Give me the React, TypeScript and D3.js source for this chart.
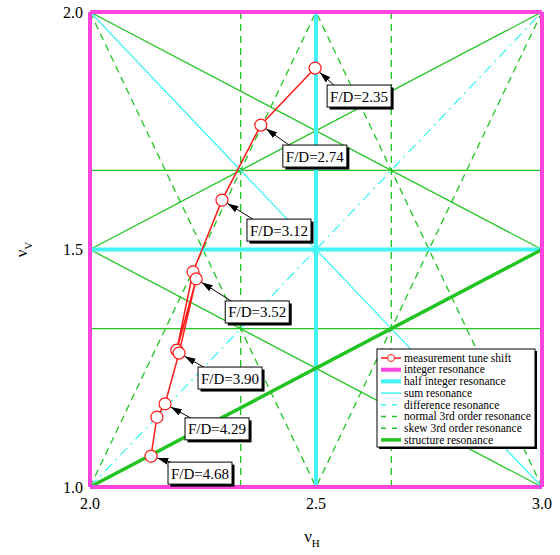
import * as d3 from 'd3'
import { useEffect, useRef } from 'react'

const W = 560
const H = 555
const margin = { top: 12, right: 18, bottom: 68, left: 90 }

// measured tunes along the F/D scan (νH, νV)
const tuneH = [2.498, 2.378, 2.292, 2.228, 2.192, 2.235, 2.197, 2.166, 2.148, 2.135]
const tuneV = [1.882, 1.762, 1.604, 1.453, 1.288, 1.438, 1.282, 1.175, 1.147, 1.065]
// F/D labels and which measured point each one points at
const fdLabels = ['F/D=2.35', 'F/D=2.74', 'F/D=3.12', 'F/D=3.52', 'F/D=3.90', 'F/D=4.29', 'F/D=4.68']
const fdIndex = [0, 1, 2, 5, 6, 7, 9]
// box offset from the point, px
const fdOffset = [[12, 17], [22, 20], [25, 19], [29, 22], [19, 14], [20, 14], [17, 6]]

const xTicks = [2.0, 2.5, 3.0]
const yTicks = [1.0, 1.5, 2.0]

// resonance lines a*νH + b*νV = n
const integerLines = [[1, 0, 2], [1, 0, 3], [0, 1, 1], [0, 1, 2]]
const halfIntegerLines = [[2, 0, 5], [0, 2, 3]]
const sumLines = [[1, 1, 4]]
const differenceLines = [[1, -1, 1]]
const normal3rdLines = [[3, 0, 7], [3, 0, 8], [2, -1, 3], [2, -1, 4], [2, 1, 6], [2, 1, 7]]
const skew3rdLines = [[0, 3, 4], [0, 3, 5], [1, 2, 5], [1, 2, 6], [-1, 2, 1]]
const structureLines = [[-1, 2, 0]]

const MAGENTA = '#ff44dd'
const CYAN = '#44f4f4'
const GREEN = '#22c422'
const RED = '#ff1a1a'
const FONT = '"Liberation Serif", "Times New Roman", serif'

const legendItems = [
  { label: 'measurement tune shift', color: RED, width: 1.5, dash: '', marker: true },
  { label: 'integer resonance', color: MAGENTA, width: 4, dash: '' },
  { label: 'half integer resonance', color: CYAN, width: 4, dash: '' },
  { label: 'sum resonance', color: CYAN, width: 1.5, dash: '' },
  { label: 'difference resonance', color: CYAN, width: 1.5, dash: '5,6' },
  { label: 'normal 3rd order resonance', color: GREEN, width: 1.5, dash: '5,6' },
  { label: 'skew 3rd order resonance', color: GREEN, width: 1.5, dash: '5,6' },
  { label: 'structure resonance', color: GREEN, width: 3.5, dash: '' },
]

// end points of a*x + b*y = n inside [2,3]x[1,2]
function clipLine(a: number, b: number, n: number) {
  const pts: number[][] = []
  const eps = 1e-9
  for (const x of [2, 3]) {
    if (b !== 0) {
      const y = (n - a * x) / b
      if (y >= 1 - eps && y <= 2 + eps) pts.push([x, y])
    }
  }
  for (const y of [1, 2]) {
    if (a !== 0) {
      const x = (n - b * y) / a
      if (x >= 2 - eps && x <= 3 + eps) pts.push([x, y])
    }
  }
  const out: number[][] = []
  pts.forEach(p => { if (!out.some(q => Math.abs(q[0] - p[0]) < 1e-6 && Math.abs(q[1] - p[1]) < 1e-6)) out.push(p) })
  return out.slice(0, 2)
}

export default function App() {
  const ref = useRef<SVGSVGElement>(null)
  useEffect(() => {
    const svg = d3.select(ref.current)
    svg.selectAll('*').remove()
    const x = d3.scaleLinear().domain([2, 3]).range([margin.left, W - margin.right])
    const y = d3.scaleLinear().domain([1, 2]).range([H - margin.bottom, margin.top])

    const defs = svg.append('defs')
    defs.append('marker').attr('id', 'arrow').attr('markerUnits', 'userSpaceOnUse')
      .attr('markerWidth', 12).attr('markerHeight', 8).attr('refX', 11).attr('refY', 3.5)
      .attr('orient', 'auto')
      .append('path').attr('d', 'M0,0 L11,3.5 L0,7 Z').attr('fill', '#000')

    const drawLines = (lines: number[][], color: string, width: number, dash: string) => {
      lines.forEach(([a, b, n]) => {
        const p = clipLine(a, b, n)
        if (p.length < 2) return
        svg.append('line')
          .attr('x1', x(p[0][0])).attr('y1', y(p[0][1]))
          .attr('x2', x(p[1][0])).attr('y2', y(p[1][1]))
          .attr('stroke', color).attr('stroke-width', width)
          .attr('stroke-dasharray', dash || null)
      })
    }
    drawLines(skew3rdLines, GREEN, 1.3, '')
    drawLines(normal3rdLines, GREEN, 1.3, '7,5')
    drawLines(sumLines, CYAN, 1.3, '')
    drawLines(differenceLines, CYAN, 1.3, '10,5,2,5')
    drawLines(halfIntegerLines, CYAN, 4, '')
    drawLines(structureLines, GREEN, 3.5, '')
    drawLines(integerLines, MAGENTA, 4, '')

    // tick labels
    svg.append('g').selectAll('text').data(xTicks).enter().append('text')
      .attr('x', d => x(d)).attr('y', H - margin.bottom + 22)
      .attr('text-anchor', 'middle').attr('font-family', FONT).attr('font-size', 16)
      .text(d => d.toFixed(1))
    svg.append('g').selectAll('text').data(yTicks).enter().append('text')
      .attr('x', margin.left - 7).attr('y', d => y(d)).attr('dy', '0.35em')
      .attr('text-anchor', 'end').attr('font-family', FONT).attr('font-size', 16)
      .text(d => d.toFixed(1))

    // axis titles
    const xt = svg.append('text').attr('x', x(2.5) - 4).attr('y', H - 13)
      .attr('text-anchor', 'middle').attr('font-family', FONT).attr('font-size', 17)
    xt.append('tspan').text('ν')
    xt.append('tspan').attr('dy', 5).attr('font-size', 11).text('H')
    const yt = svg.append('text').attr('transform', `translate(27,${y(1.5)}) rotate(-90)`)
      .attr('text-anchor', 'middle').attr('font-family', FONT).attr('font-size', 17)
    yt.append('tspan').text('ν')
    yt.append('tspan').attr('dy', 5).attr('font-size', 11).text('V')

    // measured tune path
    const pts = tuneH.map((h, i) => [x(h), y(tuneV[i])])
    svg.append('path').attr('d', d3.line()(pts as [number, number][]))
      .attr('fill', 'none').attr('stroke', RED).attr('stroke-width', 1.5)
    svg.append('g').selectAll('circle').data(pts).enter().append('circle')
      .attr('cx', d => d[0]).attr('cy', d => d[1]).attr('r', 6)
      .attr('fill', '#fff').attr('stroke', RED).attr('stroke-width', 1.2)

    // F/D annotations
    const bw = 64, bh = 22
    fdLabels.forEach((lab, i) => {
      const [px, py] = pts[fdIndex[i]]
      const bx = px + fdOffset[i][0], by = py + fdOffset[i][1]
      const tx = bx + 9, ty = by + 2
      const ang = Math.atan2(ty - py, tx - px)
      svg.append('line')
        .attr('x1', tx).attr('y1', ty)
        .attr('x2', px + 6.5 * Math.cos(ang)).attr('y2', py + 6.5 * Math.sin(ang))
        .attr('stroke', '#000').attr('stroke-width', 1).attr('marker-end', 'url(#arrow)')
      svg.append('rect').attr('x', bx + 2.5).attr('y', by + 2.5).attr('width', bw).attr('height', bh).attr('fill', '#000')
      svg.append('rect').attr('x', bx).attr('y', by).attr('width', bw).attr('height', bh)
        .attr('fill', '#fff').attr('stroke', '#000').attr('stroke-width', 1)
      svg.append('text').attr('x', bx + bw / 2).attr('y', by + 16.5)
        .attr('text-anchor', 'middle').attr('font-family', FONT).attr('font-size', 15)
        .text(lab)
    })

    // legend
    const lx = 377, ly = 349, lw = 158, lh = 98
    const lg = svg.append('g')
    lg.append('rect').attr('x', lx + 2).attr('y', ly + 2).attr('width', lw).attr('height', lh).attr('fill', '#000')
    lg.append('rect').attr('x', lx).attr('y', ly).attr('width', lw).attr('height', lh)
      .attr('fill', '#fff').attr('stroke', '#000').attr('stroke-width', 1)
    legendItems.forEach((it, i) => {
      const yy = ly + 9 + i * 11.7
      lg.append('line').attr('x1', lx + 4).attr('x2', lx + 24).attr('y1', yy).attr('y2', yy)
        .attr('stroke', it.color).attr('stroke-width', it.width).attr('stroke-dasharray', it.dash || null)
      if (it.marker) {
        lg.append('circle').attr('cx', lx + 14).attr('cy', yy).attr('r', 3.5)
          .attr('fill', '#fff').attr('stroke', RED).attr('stroke-width', 1)
      }
      lg.append('text').attr('x', lx + 27).attr('y', yy).attr('dy', '0.33em')
        .attr('font-family', FONT).attr('font-size', 11.5).text(it.label)
    })
  }, [])
  return (
    <svg ref={ref} width={W} height={H} style={{ position: 'absolute', left: 0, top: 0, background: '#fff' }} />
  )
}
